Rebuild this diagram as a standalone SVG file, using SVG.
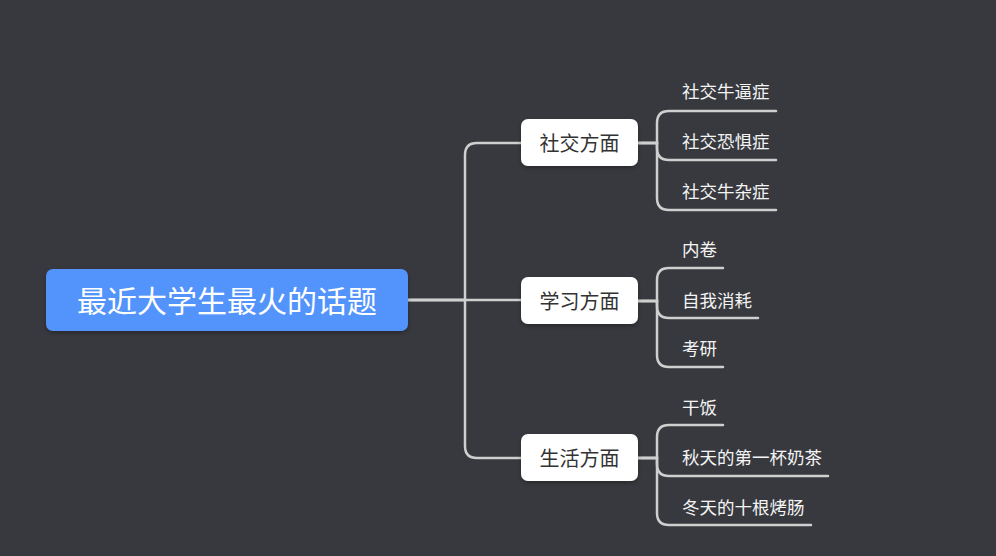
<svg xmlns="http://www.w3.org/2000/svg" width="996" height="556" viewBox="0 0 996 556">
<style>
.bg{fill:#37393e}
.ln{fill:none;stroke:#cfcfcf;stroke-width:2.5;stroke-linecap:round}
.root rect{fill:#5394fc}
.root text{fill:#ffffff;font-size:30px}
.br rect{fill:#ffffff}
.br text{fill:#333333;font-size:20px}
.lf text{fill:#f4f4f4;font-size:17.5px}
text{font-family:"Microsoft YaHei","Noto Sans CJK SC","Noto Sans",sans-serif;dominant-baseline:central}
</style>
<defs>
<filter id="sh" x="-10%" y="-20%" width="120%" height="150%"><feDropShadow dx="0" dy="2" stdDeviation="2" flood-color="#000" flood-opacity="0.3"/></filter>
</defs>
<rect class="bg" x="0" y="0" width="996" height="556"/>
<g id="connectors">
<path class="ln" d="M408 300 H465 V155 Q465 143 477 143 H521"/>
<path class="ln" d="M408 300 H521"/>
<path class="ln" d="M408 300 H465 V446 Q465 458 477 458 H521"/>
<path class="ln" d="M638 143 H657 V123 Q657 111 669 111 H776"/>
<path class="ln" d="M638 143 H657 V148 Q657 160 669 160 H776"/>
<path class="ln" d="M638 143 H657 V198 Q657 210 669 210 H776"/>
<path class="ln" d="M638 301 H657 V280 Q657 268 669 268 H723"/>
<path class="ln" d="M638 301 H657 V306 Q657 318 669 318 H758"/>
<path class="ln" d="M638 301 H657 V355 Q657 367 669 367 H723"/>
<path class="ln" d="M638 458 H657 V437 Q657 425 669 425 H723"/>
<path class="ln" d="M638 458 H657 V464 Q657 476 669 476 H828"/>
<path class="ln" d="M638 458 H657 V513 Q657 525 669 525 H811"/>
</g>
<g id="root" class="root"><rect x="46" y="269" width="362" height="62" rx="7" filter="url(#sh)"/><text x="227" y="298.5" text-anchor="middle">最近大学生最火的话题</text></g>
<g id="social" class="br"><rect x="521" y="119" width="117" height="47" rx="7" filter="url(#sh)"/><text x="579.5" y="142" text-anchor="middle">社交方面</text></g>
<g id="study" class="br"><rect x="521" y="277" width="117" height="47" rx="7" filter="url(#sh)"/><text x="579.5" y="300" text-anchor="middle">学习方面</text></g>
<g id="life" class="br"><rect x="521" y="434" width="117" height="47" rx="7" filter="url(#sh)"/><text x="579.5" y="457" text-anchor="middle">生活方面</text></g>
<g id="s1" class="lf"><text x="682" y="90">社交牛逼症</text></g>
<g id="s2" class="lf"><text x="682" y="140">社交恐惧症</text></g>
<g id="s3" class="lf"><text x="682" y="190">社交牛杂症</text></g>
<g id="t1" class="lf"><text x="682" y="248">内卷</text></g>
<g id="t2" class="lf"><text x="682" y="299">自我消耗</text></g>
<g id="t3" class="lf"><text x="682" y="347">考研</text></g>
<g id="l1" class="lf"><text x="682" y="406">干饭</text></g>
<g id="l2" class="lf"><text x="682" y="456">秋天的第一杯奶茶</text></g>
<g id="l3" class="lf"><text x="682" y="506">冬天的十根烤肠</text></g>
</svg>
